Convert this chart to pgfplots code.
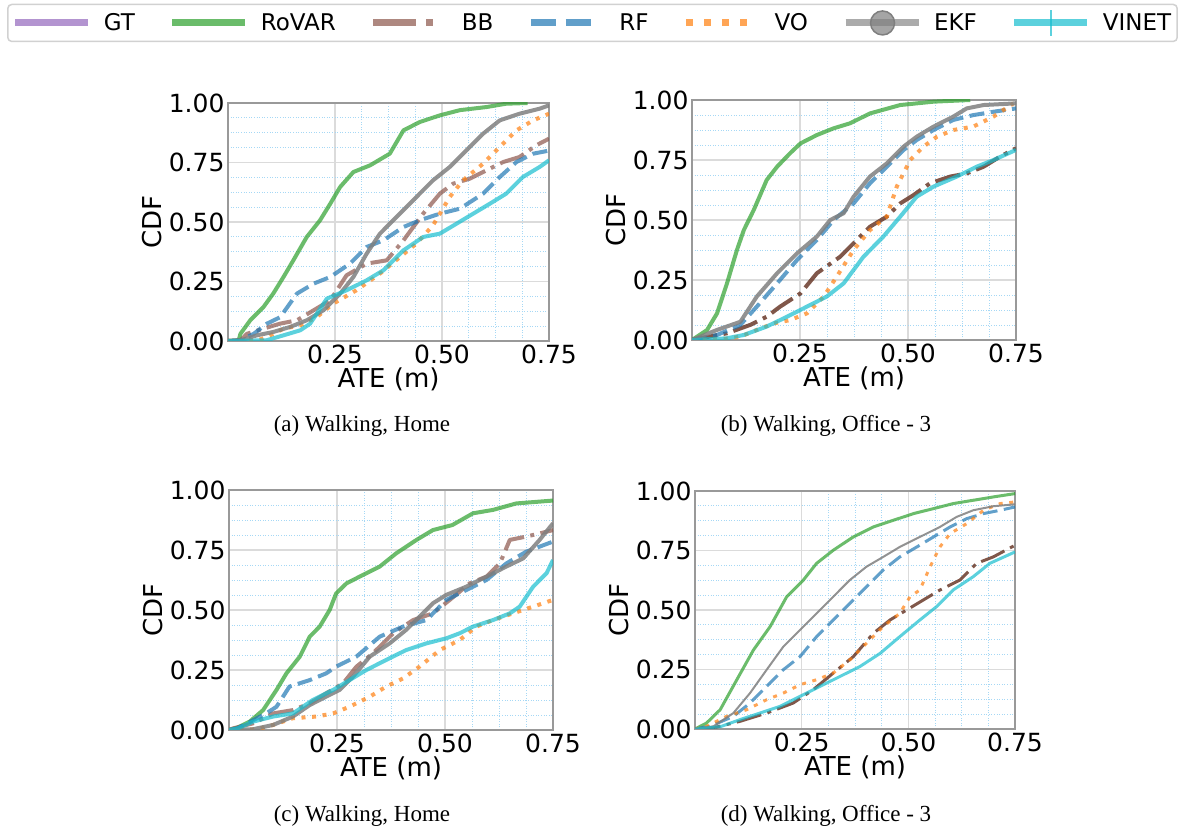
\documentclass[border=0pt]{standalone}
\usepackage{fontspec}
\setmainfont{DejaVu Sans}
\newfontfamily\capfont{Liberation Serif}
\usepackage{pgfplots}
\pgfplotsset{compat=1.18}
\definecolor{tpurple}{HTML}{9467BD}
\definecolor{tgreen}{HTML}{2CA02C}
\definecolor{tbrown}{HTML}{8C564B}
\definecolor{dbrown}{HTML}{6A3A2A}
\definecolor{tblue}{HTML}{1F77B4}
\definecolor{torange}{HTML}{FF7F0E}
\definecolor{tgray}{HTML}{7F7F7F}
\definecolor{tcyan}{HTML}{17BECF}
\definecolor{mgrid}{HTML}{A6D8F5}
\pgfplotsset{
 ticknum/.style={/pgf/number format/fixed, /pgf/number format/fixed zerofill, /pgf/number format/precision=2, /pgf/number format/assume math mode=true},
 cdf/.style={
  scale only axis, width=322pt, height=239pt,
  xmin=0, xmax=0.75, ymin=0, ymax=1,
  xtick={0.25,0.5,0.75}, ytick={0,0.25,0.5,0.75,1},
  minor tick num=3,
  grid=both,
  major grid style={draw=black!14, line width=1.2pt},
  minor grid style={draw=mgrid, line width=0.9pt, dash pattern=on 1pt off 1.6pt},
  major tick length=0pt, minor tick length=0pt,
  axis line style={draw=black!40, line width=1.3pt},
  tick label style={font=\fontsize{25}{25}\selectfont},
  label style={font=\fontsize{26}{26}\selectfont},
  xlabel style={yshift=3pt},
  xticklabel style={ticknum}, yticklabel style={ticknum},
  xlabel={ATE (m)}, ylabel={CDF},
  no markers,
 },
 lw/.style={line width=#1, line join=round},
 rovar/.style={draw=tgreen, draw opacity=0.7},
 bb/.style={draw=tbrown, draw opacity=0.7, dash pattern=on 25.6pt off 6.4pt on 4pt off 6.4pt},
 bbd/.style={draw=dbrown, draw opacity=0.85, dash pattern=on 25.6pt off 6.4pt on 4pt off 6.4pt},
 rf/.style={draw=tblue, draw opacity=0.7, dash pattern=on 15pt off 6.5pt},
 vo/.style={draw=torange, draw opacity=0.7, dash pattern=on 4pt off 6.6pt},
 ekf/.style={draw=tgray, draw opacity=0.85},
 vinet/.style={draw=tcyan, draw opacity=0.7},
}
\begin{document}
\begin{tikzpicture}
\path[use as bounding box] (0pt,0pt) rectangle (1185pt,832pt);
% legend
\begin{axis}[at={(0pt,0pt)}, anchor=south west, scale only axis, width=1185pt, height=832pt,
 xmin=0,xmax=1,ymin=0,ymax=1, hide axis,
 legend columns=7,
 legend style={at={(0.5,0.9724)}, anchor=center, draw=black!18, line width=1.5pt, rounded corners=4pt,
   font=\fontsize{23}{26}\selectfont, inner xsep=4pt, inner ysep=4.5pt,
   /tikz/every odd column/.append style={column sep=10pt},
   /tikz/every even column/.append style={column sep=32pt}},
 legend image code/.code={\draw[#1] (0pt,0pt) -- (73pt,0pt);}]
\addlegendimage{line width=7pt, draw=tpurple, draw opacity=0.7}
\addlegendentry{GT}
\addlegendimage{line width=7pt, draw=tgreen, draw opacity=0.7}
\addlegendentry{RoVAR}
\addlegendimage{line width=7pt, draw=tbrown, draw opacity=0.7, dash pattern=on 43pt off 10pt on 7pt off 30pt}
\addlegendentry{BB}
\addlegendimage{line width=7pt, draw=tblue, draw opacity=0.7, dash pattern=on 25pt off 10pt on 25pt off 30pt}
\addlegendentry{RF}
\addlegendimage{line width=7pt, draw=torange, draw opacity=0.7, dash pattern=on 7pt off 11pt on 7pt off 11pt on 7pt off 11pt on 7pt off 30pt}
\addlegendentry{VO}
\addlegendimage{legend image code/.code={\draw[line width=7pt, draw=tgray, draw opacity=0.65] (0pt,0pt) -- (73pt,0pt); \fill[tgray, fill opacity=0.7] (37pt,0pt) circle (12pt);}}
\addlegendentry{EKF}
\addlegendimage{legend image code/.code={\draw[line width=7pt, draw=tcyan, draw opacity=0.7] (0pt,0pt) -- (73pt,0pt); \draw[line width=2pt, draw=tcyan, draw opacity=0.7] (37pt,-13pt) -- (37pt,13pt);}}
\addlegendentry{VINET}
\end{axis}
% (a)
\begin{axis}[cdf, at={(228pt,491pt)}, anchor=south west, width=321pt, height=238pt]
\addplot[lw=4pt, rovar] coordinates {(0,0)(0.025,0.003)(0.029,0.03)(0.052,0.087)(0.083,0.143)(0.106,0.2)(0.13,0.27)(0.153,0.34)(0.184,0.437)(0.215,0.507)(0.239,0.577)(0.262,0.647)(0.293,0.71)(0.332,0.738)(0.378,0.787)(0.41,0.885)(0.448,0.92)(0.495,0.948)(0.542,0.97)(0.604,0.983)(0.65,0.997)(0.70,1.0)};
\addplot[lw=4pt, bb] coordinates {(0,0)(0.03,0.003)(0.044,0.03)(0.083,0.052)(0.122,0.073)(0.161,0.087)(0.2,0.129)(0.239,0.171)(0.277,0.276)(0.324,0.325)(0.371,0.339)(0.41,0.423)(0.456,0.535)(0.495,0.619)(0.526,0.661)(0.565,0.682)(0.604,0.717)(0.643,0.752)(0.681,0.773)(0.72,0.822)(0.75,0.85)};
\addplot[lw=4pt, rf] coordinates {(0,0)(0.03,0.003)(0.06,0.03)(0.091,0.073)(0.122,0.1)(0.161,0.199)(0.2,0.241)(0.239,0.269)(0.285,0.325)(0.324,0.395)(0.363,0.423)(0.41,0.479)(0.448,0.507)(0.495,0.535)(0.542,0.556)(0.596,0.619)(0.635,0.689)(0.674,0.752)(0.713,0.787)(0.75,0.80)};
\addplot[lw=4pt, vo] coordinates {(0,0)(0.07,0.003)(0.091,0.017)(0.13,0.052)(0.169,0.066)(0.207,0.1)(0.246,0.157)(0.3,0.213)(0.355,0.283)(0.402,0.353)(0.44,0.409)(0.479,0.486)(0.518,0.605)(0.549,0.675)(0.596,0.745)(0.635,0.815)(0.674,0.885)(0.713,0.927)(0.75,0.955)};
\addplot[lw=4pt, ekf] coordinates {(0,0)(0.03,0.003)(0.068,0.024)(0.106,0.038)(0.145,0.059)(0.184,0.087)(0.223,0.129)(0.262,0.199)(0.293,0.269)(0.324,0.367)(0.355,0.451)(0.386,0.507)(0.417,0.563)(0.448,0.619)(0.479,0.675)(0.518,0.731)(0.557,0.801)(0.596,0.871)(0.635,0.927)(0.681,0.955)(0.728,0.976)(0.75,0.99)};
\addplot[lw=4pt, vinet] coordinates {(0,0)(0.09,0.003)(0.13,0.024)(0.169,0.045)(0.192,0.073)(0.231,0.178)(0.277,0.213)(0.324,0.255)(0.363,0.297)(0.41,0.381)(0.456,0.437)(0.495,0.451)(0.534,0.493)(0.573,0.535)(0.612,0.577)(0.65,0.619)(0.689,0.689)(0.728,0.731)(0.75,0.759)};
\end{axis}
% (b)
\begin{axis}[cdf, at={(692pt,492pt)}, anchor=south west, width=324pt, height=240pt]
\addplot[lw=4pt, rovar] coordinates {(0,0)(0.035,0.042)(0.058,0.111)(0.081,0.236)(0.104,0.375)(0.12,0.458)(0.143,0.542)(0.173,0.667)(0.197,0.722)(0.227,0.778)(0.251,0.819)(0.289,0.854)(0.328,0.882)(0.366,0.903)(0.412,0.944)(0.482,0.979)(0.559,0.993)(0.644,1.0)};
\addplot[lw=4pt, bbd] coordinates {(0,0)(0.02,0.007)(0.081,0.028)(0.135,0.063)(0.173,0.097)(0.204,0.139)(0.251,0.194)(0.289,0.278)(0.343,0.347)(0.374,0.403)(0.412,0.472)(0.451,0.514)(0.482,0.569)(0.513,0.604)(0.551,0.653)(0.598,0.681)(0.636,0.694)(0.675,0.722)(0.713,0.764)(0.75,0.799)};
\addplot[lw=4pt, rf] coordinates {(0,0)(0.058,0.021)(0.112,0.063)(0.15,0.139)(0.197,0.236)(0.243,0.333)(0.289,0.417)(0.328,0.5)(0.374,0.569)(0.412,0.653)(0.451,0.722)(0.49,0.792)(0.52,0.833)(0.559,0.875)(0.605,0.917)(0.651,0.937)(0.698,0.951)(0.75,0.965)};
\addplot[lw=4pt, vo] coordinates {(0,0)(0.07,0.003)(0.112,0.014)(0.15,0.042)(0.189,0.069)(0.227,0.083)(0.266,0.111)(0.305,0.181)(0.335,0.264)(0.374,0.375)(0.412,0.458)(0.451,0.514)(0.474,0.639)(0.505,0.75)(0.536,0.806)(0.567,0.847)(0.605,0.875)(0.651,0.889)(0.698,0.931)(0.744,0.986)};
\addplot[lw=4pt, ekf] coordinates {(0,0)(0.058,0.042)(0.112,0.076)(0.15,0.181)(0.197,0.278)(0.243,0.361)(0.289,0.431)(0.32,0.5)(0.351,0.528)(0.374,0.597)(0.412,0.681)(0.451,0.736)(0.49,0.806)(0.52,0.847)(0.559,0.889)(0.605,0.931)(0.636,0.965)(0.675,0.979)(0.75,0.986)};
\addplot[lw=4pt, vinet] coordinates {(0,0)(0.08,0.007)(0.12,0.021)(0.173,0.056)(0.22,0.097)(0.266,0.139)(0.312,0.181)(0.351,0.236)(0.397,0.347)(0.443,0.431)(0.482,0.514)(0.52,0.597)(0.559,0.639)(0.613,0.681)(0.659,0.722)(0.698,0.75)(0.75,0.792)};
\end{axis}
% (c)
\begin{axis}[cdf, at={(229pt,102pt)}, anchor=south west, width=324pt, height=240pt]
\addplot[lw=4pt, rovar] coordinates {(0,0)(0.02,0.01)(0.048,0.035)(0.079,0.083)(0.11,0.167)(0.133,0.236)(0.164,0.306)(0.187,0.389)(0.21,0.431)(0.233,0.5)(0.248,0.569)(0.272,0.611)(0.31,0.646)(0.349,0.681)(0.387,0.736)(0.434,0.792)(0.472,0.833)(0.517,0.854)(0.565,0.903)(0.611,0.917)(0.665,0.944)(0.75,0.956)};
\addplot[lw=4pt, bb] coordinates {(0,0)(0.01,0.007)(0.056,0.028)(0.102,0.069)(0.148,0.083)(0.187,0.111)(0.225,0.153)(0.264,0.194)(0.295,0.264)(0.333,0.319)(0.38,0.403)(0.426,0.458)(0.472,0.486)(0.511,0.542)(0.557,0.611)(0.596,0.639)(0.627,0.694)(0.65,0.792)(0.688,0.806)(0.719,0.819)(0.75,0.833)};
\addplot[lw=4pt, rf] coordinates {(0,0)(0.02,0.007)(0.086,0.069)(0.11,0.097)(0.14,0.181)(0.187,0.208)(0.225,0.236)(0.248,0.264)(0.295,0.306)(0.349,0.389)(0.403,0.431)(0.457,0.458)(0.503,0.542)(0.549,0.583)(0.596,0.625)(0.642,0.694)(0.688,0.743)(0.75,0.785)};
\addplot[lw=4pt, vo] coordinates {(0,0)(0.065,0.003)(0.102,0.021)(0.148,0.049)(0.202,0.056)(0.241,0.069)(0.279,0.097)(0.326,0.139)(0.364,0.181)(0.403,0.215)(0.441,0.264)(0.488,0.333)(0.534,0.375)(0.573,0.431)(0.611,0.458)(0.657,0.486)(0.704,0.514)(0.75,0.542)};
\addplot[lw=4pt, ekf] coordinates {(0,0)(0.055,0.003)(0.102,0.021)(0.148,0.056)(0.187,0.104)(0.225,0.139)(0.256,0.167)(0.287,0.222)(0.326,0.306)(0.372,0.361)(0.41,0.417)(0.449,0.486)(0.472,0.528)(0.503,0.563)(0.549,0.597)(0.596,0.639)(0.642,0.681)(0.681,0.715)(0.719,0.792)(0.75,0.861)};
\addplot[lw=4pt, vinet] coordinates {(0,0)(0.02,0.007)(0.056,0.035)(0.102,0.056)(0.148,0.069)(0.194,0.125)(0.241,0.167)(0.279,0.208)(0.318,0.25)(0.364,0.292)(0.41,0.333)(0.457,0.361)(0.503,0.382)(0.534,0.403)(0.565,0.431)(0.611,0.458)(0.65,0.486)(0.673,0.514)(0.704,0.597)(0.735,0.653)(0.75,0.708)};
\end{axis}
% (d)
\begin{axis}[cdf, at={(695pt,103pt)}, anchor=south west, width=320pt, height=238pt]
\addplot[lw=3pt, rovar] coordinates {(0,0)(0.027,0.025)(0.059,0.081)(0.098,0.207)(0.137,0.332)(0.176,0.43)(0.215,0.556)(0.254,0.626)(0.285,0.696)(0.324,0.751)(0.371,0.807)(0.418,0.849)(0.465,0.877)(0.512,0.905)(0.559,0.926)(0.605,0.947)(0.652,0.961)(0.699,0.975)(0.75,0.989)};
\addplot[lw=3pt, bbd] coordinates {(0,0)(0.05,0.008)(0.105,0.032)(0.168,0.067)(0.23,0.109)(0.277,0.165)(0.324,0.235)(0.371,0.304)(0.418,0.402)(0.457,0.458)(0.496,0.5)(0.535,0.542)(0.574,0.584)(0.621,0.626)(0.66,0.696)(0.699,0.723)(0.75,0.772)};
\addplot[lw=3pt, rf] coordinates {(0,0)(0.035,0.011)(0.09,0.053)(0.129,0.109)(0.168,0.179)(0.207,0.249)(0.246,0.304)(0.285,0.388)(0.324,0.458)(0.363,0.528)(0.402,0.598)(0.441,0.668)(0.48,0.723)(0.52,0.765)(0.559,0.807)(0.598,0.849)(0.637,0.884)(0.676,0.905)(0.715,0.919)(0.75,0.933)};
\addplot[lw=3pt, vo] coordinates {(0,0)(0.027,0.011)(0.074,0.053)(0.121,0.081)(0.168,0.123)(0.207,0.151)(0.246,0.186)(0.285,0.207)(0.324,0.235)(0.363,0.291)(0.402,0.36)(0.441,0.43)(0.48,0.486)(0.504,0.556)(0.527,0.584)(0.551,0.682)(0.574,0.765)(0.598,0.821)(0.637,0.863)(0.676,0.919)(0.715,0.947)(0.75,0.954)};
\addplot[lw=2pt, ekf] coordinates {(0,0)(0.043,0.011)(0.09,0.067)(0.129,0.151)(0.168,0.249)(0.207,0.346)(0.246,0.416)(0.285,0.486)(0.324,0.556)(0.363,0.626)(0.402,0.682)(0.441,0.723)(0.48,0.765)(0.527,0.807)(0.574,0.849)(0.613,0.891)(0.652,0.919)(0.699,0.936)(0.75,0.944)};
\addplot[lw=3pt, vinet] coordinates {(0,0)(0.06,0.01)(0.105,0.039)(0.152,0.067)(0.199,0.095)(0.246,0.137)(0.293,0.179)(0.34,0.221)(0.387,0.263)(0.434,0.318)(0.48,0.388)(0.527,0.458)(0.566,0.514)(0.605,0.584)(0.652,0.64)(0.691,0.696)(0.75,0.744)};
\end{axis}
% captions
\node[anchor=base, font=\capfont\fontsize{23}{23}\selectfont] at (362pt,400pt) {(a) Walking, Home};
\node[anchor=base, font=\capfont\fontsize{23}{23}\selectfont] at (826pt,400pt) {(b) Walking, Office - 3};
\node[anchor=base, font=\capfont\fontsize{23}{23}\selectfont] at (362pt,11pt) {(c) Walking, Home};
\node[anchor=base, font=\capfont\fontsize{23}{23}\selectfont] at (826pt,11pt) {(d) Walking, Office - 3};
\end{tikzpicture}
\end{document}
